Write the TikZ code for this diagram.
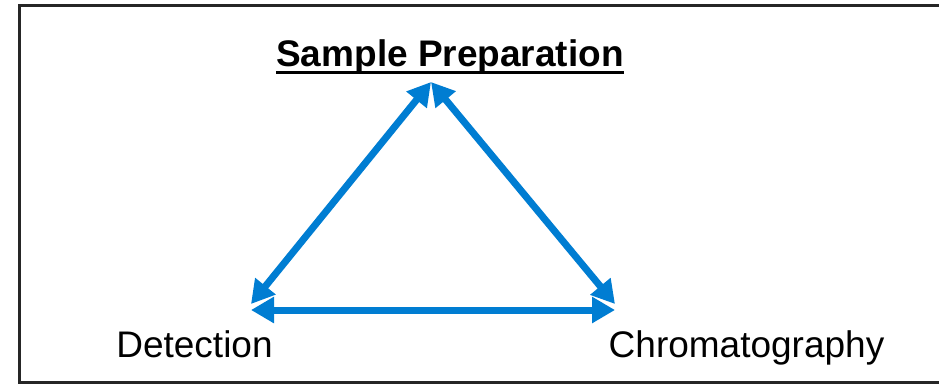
\documentclass[tikz,border=0pt]{standalone}
\usepackage{fontspec}
\setmainfont{Liberation Sans}
\usetikzlibrary{arrows.meta,positioning}
\definecolor{azul}{RGB}{0,125,210}

\begin{document}
\begin{tikzpicture}[x=1pt,y=-1pt,
    every node/.style={inner sep=0pt, font=\fontsize{37}{41}\selectfont},
    flecha/.style={draw=azul, line width=7pt,
      {Triangle[length=23pt,width=25pt]}-{Triangle[length=23pt,width=25pt]}}]
    \useasboundingbox (0,0) rectangle (939,384);
    \clip (0,0) rectangle (939,384);
    % Marco
    \draw[line width=3pt, draw=black!85] (19,5) rectangle (960,382);

    % Etiquetas
    \node[anchor=base, font=\fontsize{37}{41}\selectfont\bfseries] (prep) at (450,66) {Sample Preparation};
    \node[anchor=base] (det) at (194.5,357) {Detection};
    \node[anchor=base] (chrom) at (746.5,357) {Chromatography};
    \draw[line width=3pt] ([yshift=-6pt]prep.base west) -- ([yshift=-6pt]prep.base east);

    % Triangulo de flechas
    \coordinate (arriba) at (431,82);
    \coordinate (izq) at (251,304);
    \coordinate (der) at (615,304);
    \coordinate (izqb) at (251,310);
    \coordinate (derb) at (615,310);
    \draw[flecha] (izq) -- (arriba);
    \draw[flecha] (arriba) -- (der);
    \draw[flecha] (izqb) -- (derb);
  \end{tikzpicture}
\end{document}
